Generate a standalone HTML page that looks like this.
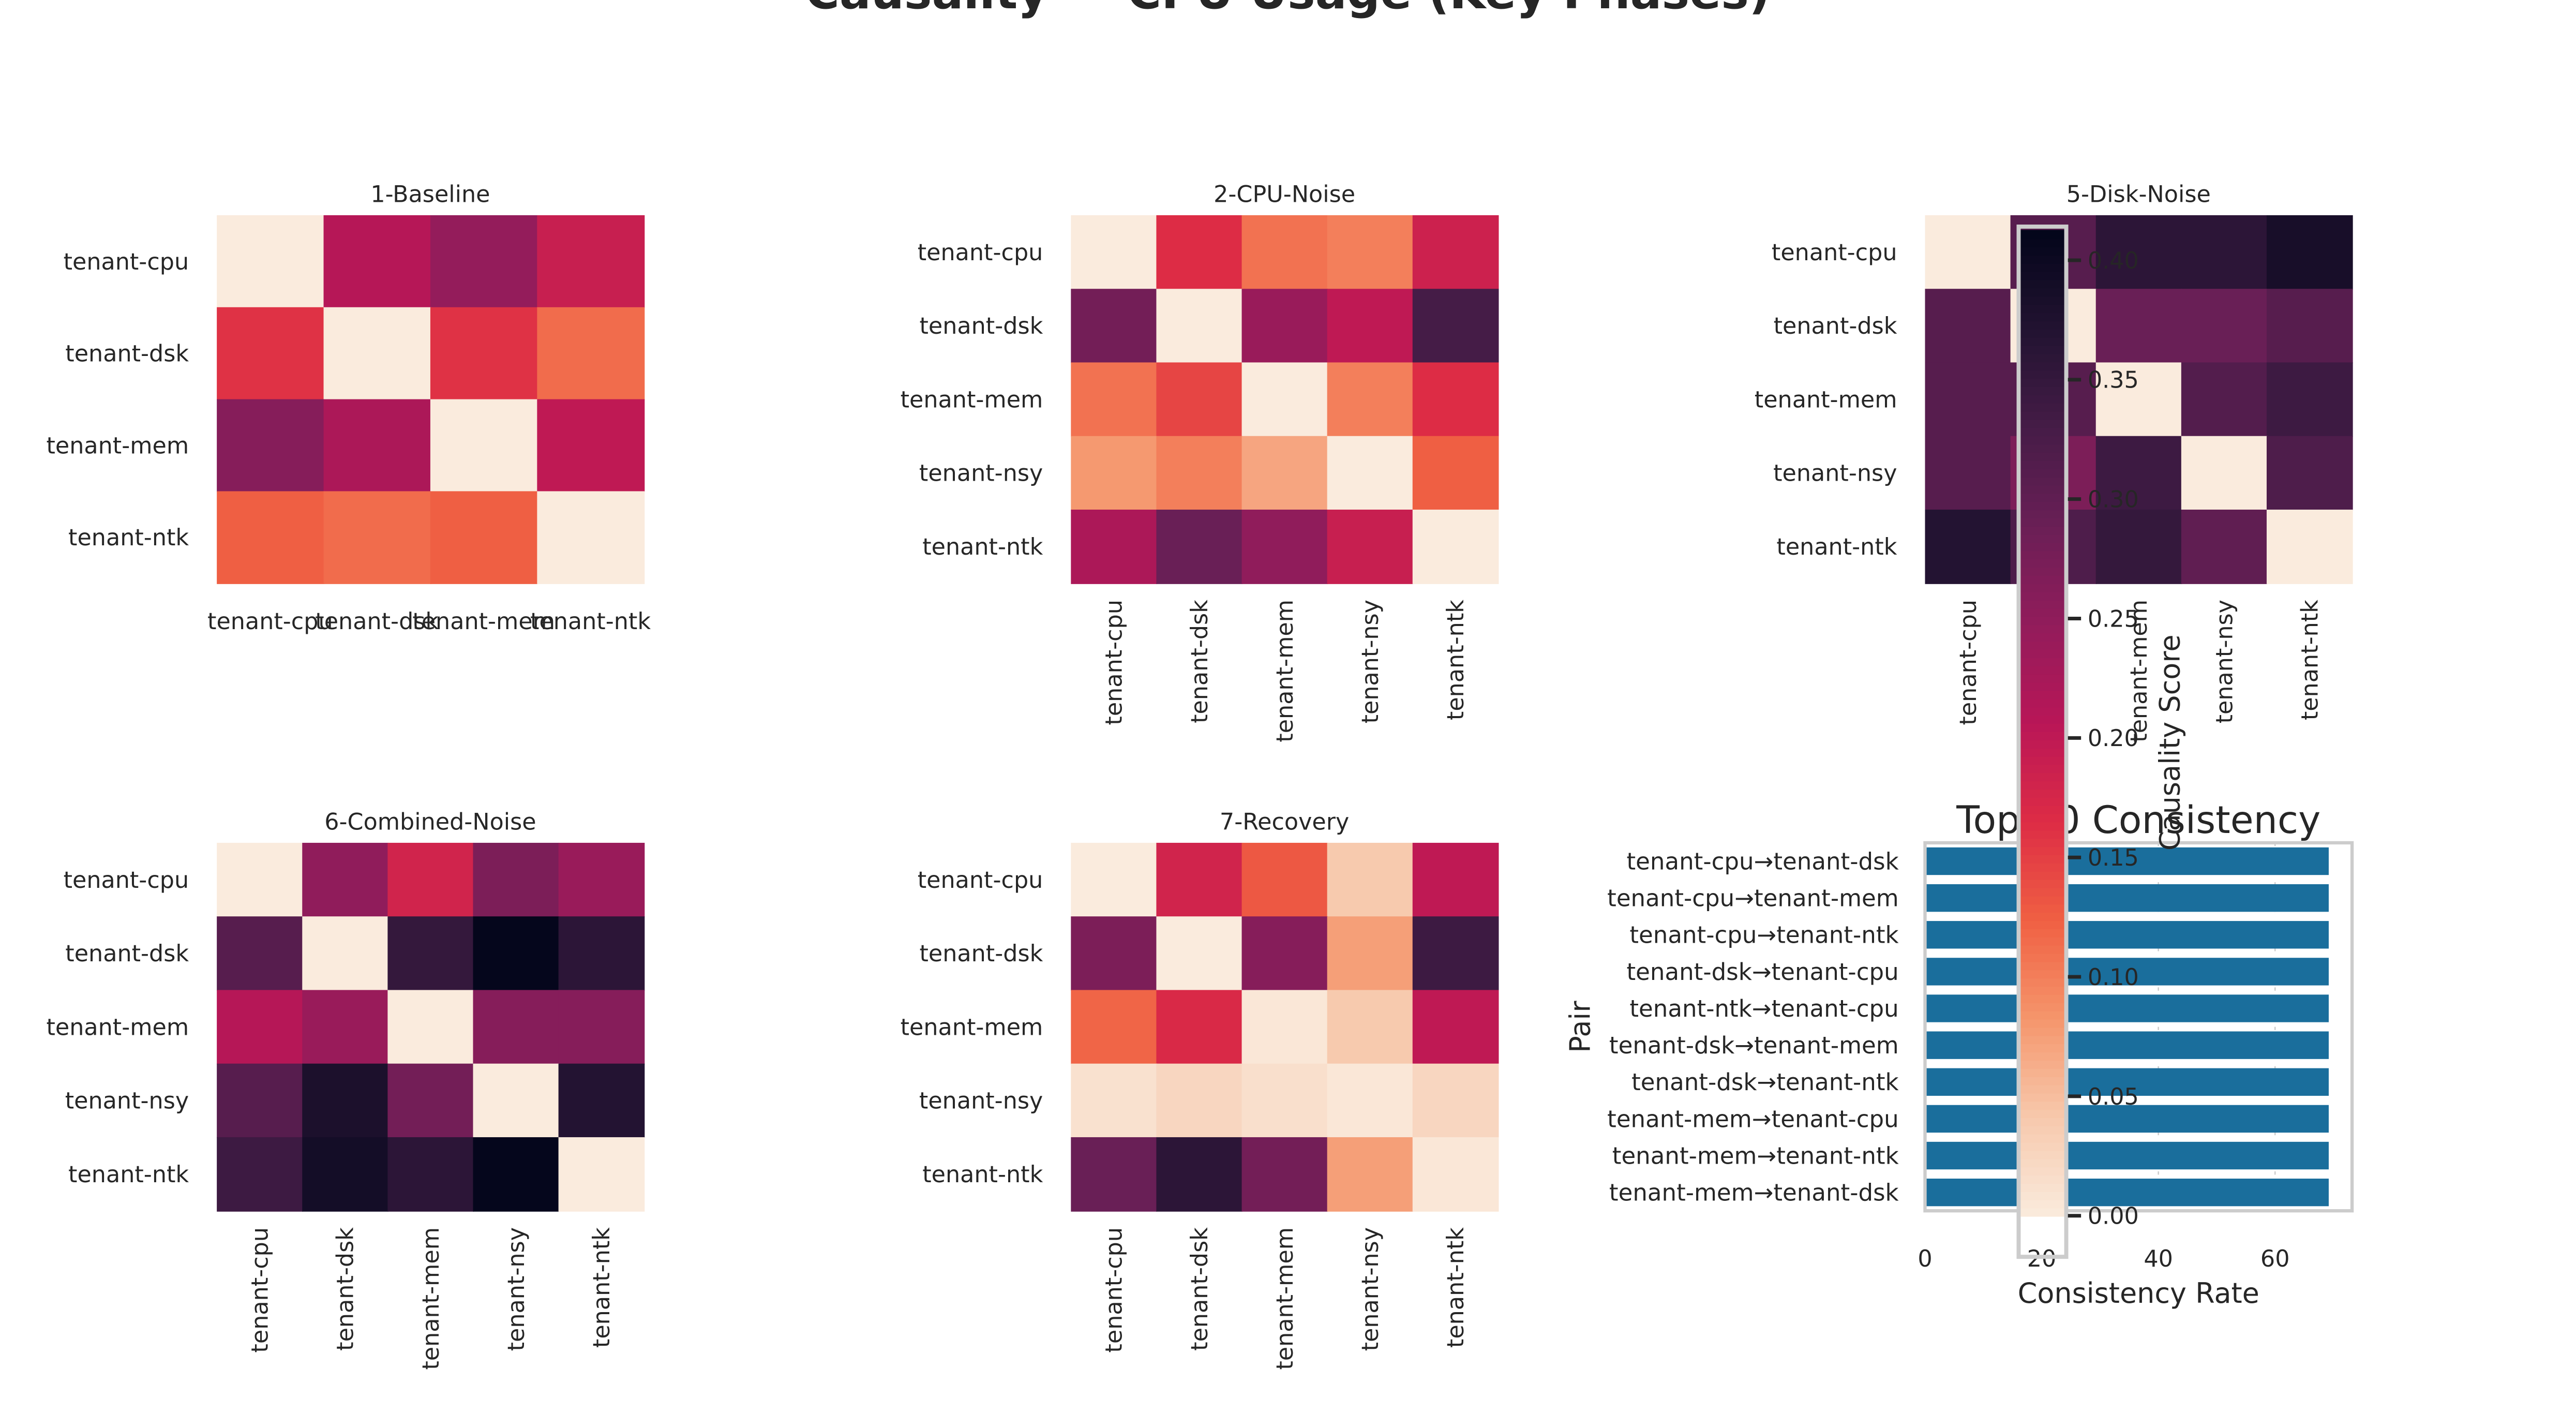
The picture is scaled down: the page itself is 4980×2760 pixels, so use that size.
<!DOCTYPE html>
<html><head><meta charset="utf-8">
<style>
html,body{margin:0;padding:0;background:#fff;}
svg{display:block;font-family:"DejaVu Sans","Liberation Sans",sans-serif;}
</style></head>
<body>
<svg id="fig" width="4980" height="2760" viewBox="0 0 1568.3 869.2" preserveAspectRatio="xMinYMin meet" xmlns="http://www.w3.org/2000/svg">
<rect x="0" y="0" width="1568.3" height="869.2" fill="#fff"/>
<text x="784" y="5" text-anchor="middle" font-size="28.4" font-weight="bold" fill="#262626">Causality — CPU Usage (Key Phases)</text>
</svg>
<script>
const labels4 = ["tenant-cpu","tenant-dsk","tenant-mem","tenant-ntk"];
const labels5 = ["tenant-cpu","tenant-dsk","tenant-mem","tenant-nsy","tenant-ntk"];
const baselineVals = [[0,0.21,0.245,0.19],[0.16,0,0.16,0.115],[0.26,0.22,0,0.20],[0.125,0.115,0.125,0]];
const cpuNoiseVals = [[0,0.165,0.11,0.10,0.185],[0.28,0,0.24,0.20,0.33],[0.11,0.145,0,0.10,0.165],[0.08,0.10,0.07,0,0.125],[0.22,0.29,0.25,0.19,0]];
const diskNoiseVals = [[0,0.31,0.36,0.36,0.385],[0.31,0,0.29,0.29,0.31],[0.31,0.31,0,0.315,0.34],[0.31,0.27,0.34,0,0.32],[0.37,0.32,0.35,0.30,0]];
const combinedVals = [[0,0.25,0.18,0.27,0.24],[0.31,0,0.35,0.41,0.36],[0.21,0.24,0,0.26,0.26],[0.31,0.38,0.28,0,0.37],[0.34,0.39,0.36,0.41,0]];
const recoveryVals = [[0,0.18,0.13,0.04,0.20],[0.27,0,0.26,0.075,0.34],[0.12,0.17,0.005,0.04,0.20],[0.012,0.025,0.015,0.005,0.025],[0.29,0.36,0.28,0.075,0.005]];
const pairs = ["tenant-cpu→tenant-dsk","tenant-cpu→tenant-mem","tenant-cpu→tenant-ntk","tenant-dsk→tenant-cpu","tenant-ntk→tenant-cpu","tenant-dsk→tenant-mem","tenant-dsk→tenant-ntk","tenant-mem→tenant-cpu","tenant-mem→tenant-ntk","tenant-mem→tenant-dsk"];
const consistency = [69.2,69.2,69.2,69.2,69.2,69.2,69.2,69.2,69.2,69.2];
const rateTicks = [0,20,40,60];
const cbTicks = [0.00,0.05,0.10,0.15,0.20,0.25,0.30,0.35,0.40];

const NS="http://www.w3.org/2000/svg";
const svg=document.getElementById('fig');
const VMAX=0.4127;
const stops=[[0,"#faebdd"],[0.1,"#f7c9ad"],[0.2,"#f5966c"],[0.3,"#f06043"],[0.4,"#dd2c45"],[0.5,"#b91657"],[0.6,"#921c5b"],[0.7,"#6a1f56"],[0.8,"#451c47"],[0.9,"#221331"],[1,"#03051a"]];
function hx(c){return [1,3,5].map(i=>parseInt(c.substr(i,2),16));}
function cmap(v){let t=Math.max(0,Math.min(1,v/VMAX));
 for(let i=1;i<stops.length;i++){if(t<=stops[i][0]){const a=hx(stops[i-1][1]),b=hx(stops[i][1]);const f=(t-stops[i-1][0])/(stops[i][0]-stops[i-1][0]);return "rgb("+a.map((x,k)=>Math.round(x+(b[k]-x)*f)).join(",")+")";}}
 return stops[stops.length-1][1];}
function mk(tag,attrs,parent){const e=document.createElementNS(NS,tag);for(const k in attrs)e.setAttribute(k,attrs[k]);(parent||svg).appendChild(e);return e;}

function heatmap(name,title,vals,labs,x0,y0,rotate){
 const g=mk('g',{});
 
 
 const W=260,H=224,n=labs.length,cw=W/n,ch=H/n;
 const t=mk('text',{x:x0+W/2,y:y0-8,'text-anchor':'middle','font-size':14,fill:'#262626'},g);t.textContent=title;
 
 
 vals.forEach((row,i)=>row.forEach((v,j)=>{
  const r=mk('rect',{x:x0+j*cw,y:y0+i*ch,width:cw+0.5,height:ch+0.5,fill:cmap(v)},g);
  
  
 }));
 labs.forEach((l,i)=>{
  const tl=mk('text',{x:x0-17,y:y0+(i+0.5)*ch+5,'text-anchor':'end','font-size':14,fill:'#262626'},g);tl.textContent=l;
  
  
  let tc;
  if(rotate){const cx=x0+(i+0.5)*cw+5,cy=y0+H+10;
   tc=mk('text',{x:cx,y:cy,'text-anchor':'end','font-size':14,fill:'#262626',transform:`rotate(-90 ${cx} ${cy})`},g);}
  else tc=mk('text',{x:x0+(i+0.5)*cw,y:y0+H+28,'text-anchor':'middle','font-size':14,fill:'#262626'},g);
  tc.textContent=l;
  
  
 });
}
heatmap('heatmap-baseline','1-Baseline',baselineVals,labels4,132,131,false);
heatmap('heatmap-cpu-noise','2-CPU-Noise',cpuNoiseVals,labels5,652,131,true);
heatmap('heatmap-disk-noise','5-Disk-Noise',diskNoiseVals,labels5,1172,131,true);
heatmap('heatmap-combined-noise','6-Combined-Noise',combinedVals,labels5,132,513,true);
heatmap('heatmap-recovery','7-Recovery',recoveryVals,labels5,652,513,true);

// bar chart
(function(){
 const g=mk('g',{});
 
 
 const x0=1172,y0=513,W=260,H=224,xmax=73.2;
 const sx=v=>x0+v/xmax*W;
 const band=H/pairs.length;
 rateTicks.forEach(tv=>{
  if(tv>0){const gl=mk('line',{x1:sx(tv),x2:sx(tv),y1:y0,y2:y0+H,stroke:'#cccccc','stroke-width':0.8,'stroke-dasharray':'2,6'},g);
   
   }
  const tt=mk('text',{x:sx(tv),y:y0+H+34,'text-anchor':'middle','font-size':14,fill:'#262626'},g);tt.textContent=tv;
  
  
 });
 pairs.forEach((p,i)=>{
  const b=mk('rect',{x:sx(0),y:y0+i*band+2.8,width:sx(consistency[i])-sx(0),height:band-5.6,fill:'#1a6e9c'},g);
  
  
  const l=mk('text',{x:x0-16,y:y0+(i+0.5)*band+5,'text-anchor':'end','font-size':14.2,fill:'#262626'},g);l.textContent=p;
  
  
 });
 const fr=mk('rect',{x:x0,y:y0,width:W,height:H,fill:'none',stroke:'#cccccc','stroke-width':2},g);
 
 
 const ti=mk('text',{x:x0+W/2,y:y0-6,'text-anchor':'middle','font-size':23,fill:'#262626'},g);ti.textContent='Top 10 Consistency';
 
 
 const xl=mk('text',{x:x0+W/2,y:y0+H+56,'text-anchor':'middle','font-size':17,fill:'#262626'},g);xl.textContent='Consistency Rate';
 
 
 const yl=mk('text',{x:968,y:y0+H/2,'text-anchor':'middle','font-size':17,fill:'#262626',transform:`rotate(-90 968 ${y0+H/2})`},g);yl.textContent='Pair';
 
 
})();

// colorbar
(function(){
 const g=mk('g',{});
 
 
 const x=1230,w=27,yb=740,ppu=72.7/0.05,yt=yb-VMAX*ppu;
 const N=120;
 for(let k=0;k<N;k++){const v0=VMAX*k/N;const r=mk('rect',{x:x,y:yb-(k+1)*(yb-yt)/N,width:w,height:(yb-yt)/N+0.6,fill:cmap(v0+VMAX/N/2)},g);}
 const fr=mk('rect',{x:x-1,y:yt-2,width:w+2,height:yb-yt+27,fill:'none',stroke:'#cccccc','stroke-width':2.5},g);
 
 
 cbTicks.forEach(tv=>{const y=yb-tv*ppu;
  const tk=mk('line',{x1:x+w+2,x2:x+w+10,y1:y,y2:y,stroke:'#262626','stroke-width':2.2},g);
  
  
  const tl=mk('text',{x:x+w+14,y:y+5,'font-size':14,fill:'#262626'},g);tl.textContent=tv.toFixed(2);
  
  
 });
 const cy=452;
 const lb=mk('text',{x:1327,y:cy,'text-anchor':'middle','font-size':17,fill:'#262626',transform:`rotate(-90 1327 ${cy})`},g);lb.textContent='Causality Score';
 
 
})();
</script>
</body></html>
